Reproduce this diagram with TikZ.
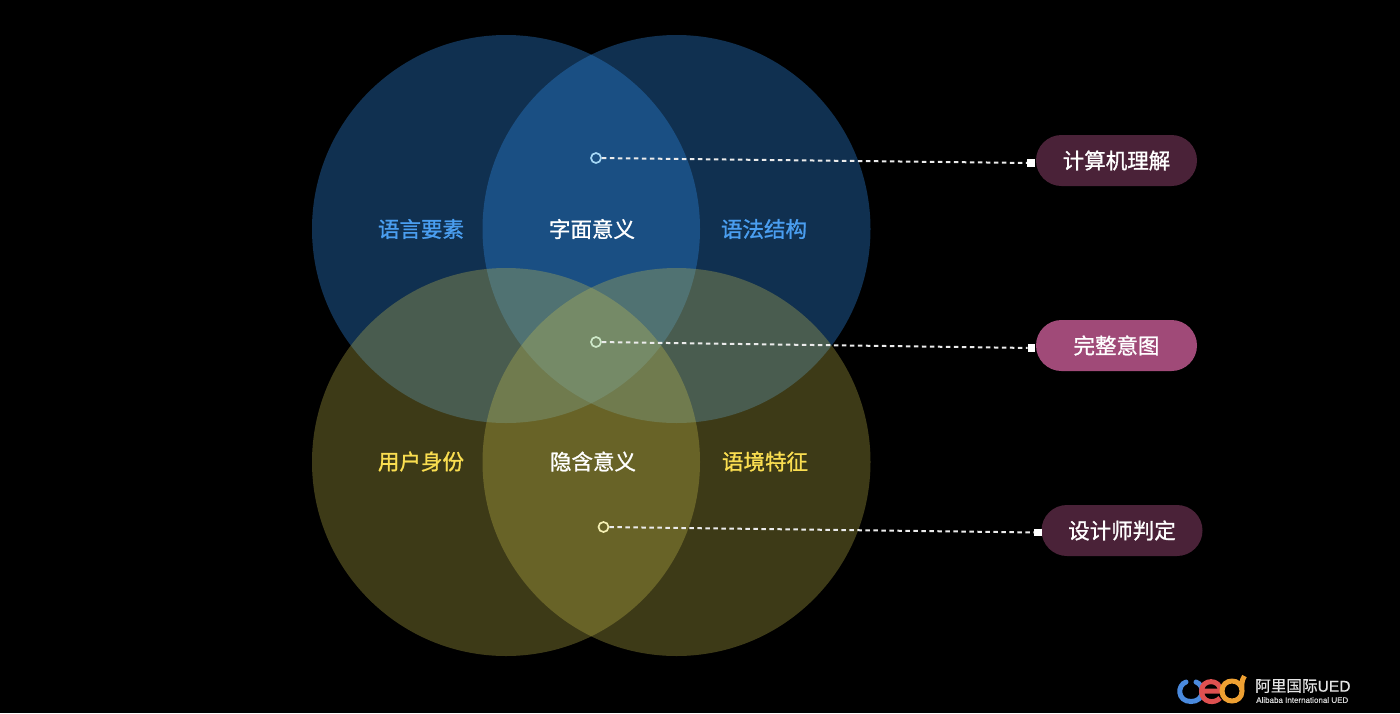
\documentclass[tikz,border=0pt]{standalone}
\usepackage{fontspec}
\usetikzlibrary{positioning}
\newfontfamily\cjk[FakeBold=1.1]{Noto Sans CJK SC}
\newfontfamily\cjklogo[FakeBold=0.6]{Noto Sans CJK SC}
\newfontfamily\latinlogo[FakeBold=0.6]{Liberation Sans}
\definecolor{vennblue}{RGB}{46,135,222}
\definecolor{vennyellow}{RGB}{205,195,78}
\definecolor{labelblue}{RGB}{74,158,240}
\definecolor{labelyellow}{RGB}{250,222,80}
\definecolor{pilldark}{RGB}{74,34,56}
\definecolor{pillbright}{RGB}{160,74,120}
\definecolor{logoblue}{RGB}{74,138,222}
\definecolor{logored}{RGB}{222,80,80}
\definecolor{logoorange}{RGB}{238,160,50}
\definecolor{ringblue}{RGB}{165,215,245}
\definecolor{ringgreen}{RGB}{205,232,200}
\definecolor{ringyellow}{RGB}{245,240,180}
\begin{document}
\begin{tikzpicture}[x=1pt, y=-1pt]
  \tikzstyle{venn}=[fill opacity=0.36]
  \tikzstyle{label}=[inner sep=0pt, font=\cjk\fontsize{21.5}{24}\selectfont]
  \tikzstyle{pill}=[rounded corners=25.5pt, minimum width=161pt, minimum height=51pt,
                    inner sep=0pt, text=white, font=\cjk\fontsize{21.5}{24}\selectfont]
  \tikzstyle{ring}=[circle, draw, line width=1.7pt, fill=none, inner sep=0pt, minimum size=10pt]
  \tikzstyle{tip}=[fill=white, inner sep=0pt, minimum size=7.5pt]
  \tikzstyle{lead}=[white!92!black, line width=2pt, dash pattern=on 4.5pt off 3.5pt]

  % ---- Background ----------------------------------------------
  \fill[black] (0,0) rectangle (1400,713);

  % ---- Four circles --------------------------------------------
  \fill[venn, vennblue]   (506,229)   circle[radius=194pt];
  \fill[venn, vennblue]   (676.5,229) circle[radius=194pt];
  \fill[venn, vennyellow, fill opacity=0.3] (506,462)   circle[radius=194pt];
  \fill[venn, vennyellow, fill opacity=0.3] (676.5,462) circle[radius=194pt];

  % ---- Labels inside the circles -------------------------------
  \node[label, text=labelblue]   (yuyan)  at (421,229)   {语言要素};
  \node[label, text=white]       (zimian) at (592,229)   {字面意义};
  \node[label, text=labelblue]   (yufa)   at (764,229)   {语法结构};
  \node[label, text=labelyellow] (yonghu) at (421,461.5) {用户身份};
  \node[label, text=white]       (yinhan) at (593,461.5) {隐含意义};
  \node[label, text=labelyellow] (yujing) at (765,461.5) {语境特征};

  % ---- Pills on the right --------------------------------------
  \node[pill, fill=pilldark]   (jisuanji) at (1116.5,160.5) {计算机理解};
  \node[pill, fill=pillbright] (wanzheng) at (1116.5,345.5) {完整意图};
  \node[pill, fill=pilldark]   (sheji)    at (1122,530.5)   {设计师判定};

  % ---- Ring and square at the two ends of each leader ----------
  \node[ring, draw=ringblue]   (dota) at (596,158) {};
  \node[ring, draw=ringgreen]  (dotb) at (596,342) {};
  \node[ring, draw=ringyellow] (dotc) at (603.5,527) {};
  \node[tip] (tipa) at (1031,163) {};
  \node[tip] (tipb) at (1031.5,348) {};
  \node[tip] (tipc) at (1038,532.5) {};

  \draw[lead] (dota) -- (tipa);
  \draw[lead] (dotb) -- (tipb);
  \draw[lead] (dotc) -- (tipc);

  % ---- Logo ----------------------------------------------------
  \draw[logoblue, line width=5pt, line cap=round]
    (1186,682) .. controls (1177,685) and (1177,701.5) .. (1191,701.5)
    .. controls (1205,701.5) and (1205,685) .. (1196,682);
  \draw[logored, line width=5pt]
    (1203,691) -- (1220.5,691) .. controls (1220.5,678.5) and (1201.5,678.5) .. (1201.5,691)
    .. controls (1201.5,703) and (1215,704) .. (1220,698);
  \draw[logoorange, line width=5pt]
    (1242,691) .. controls (1242,677.7) and (1222,677.7) .. (1222,691)
    .. controls (1222,704.3) and (1242,704.3) .. (1242,691)
    .. controls (1242,686) and (1241,681) .. (1244.5,676);

  \node[inner sep=0pt, anchor=west, text=white!90!black, font=\cjklogo\fontsize{15.6}{16}\selectfont]
    (logotext) at (1255,686) {阿里国际{\latinlogo UED}};
  \node[inner sep=0pt, anchor=west, text=white!85!black, font=\latinlogo\fontsize{8}{8}\selectfont]
    (logosub) at (1256,700) {Alibaba International UED};
\end{tikzpicture}
\end{document}
